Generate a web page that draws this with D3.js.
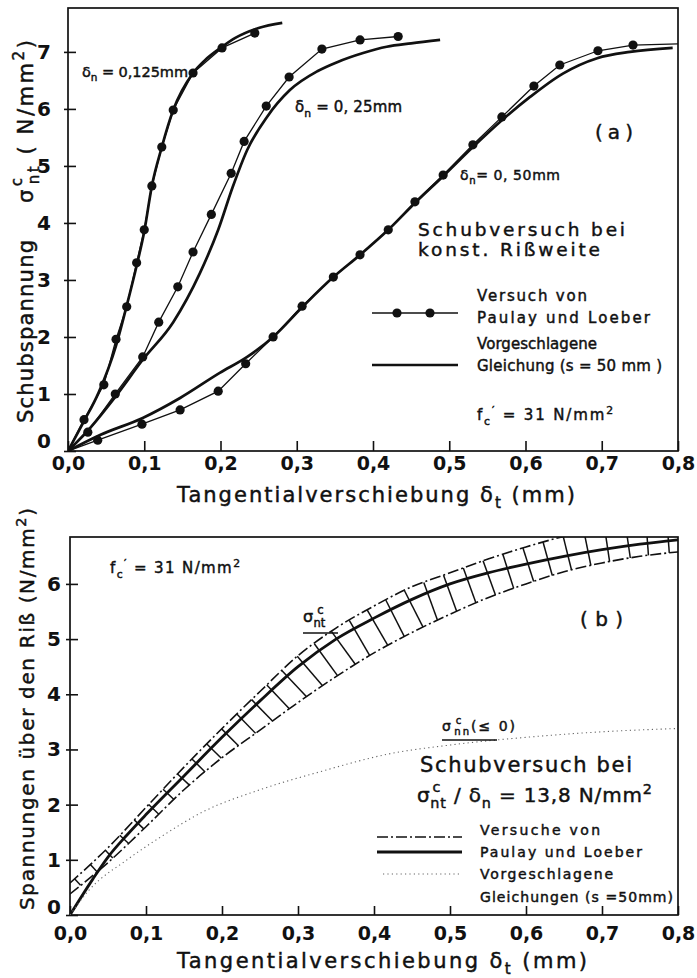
<!DOCTYPE html>
<html>
<head>
<meta charset="utf-8">
<script src="https://cdn.jsdelivr.net/npm/d3@7"></script>
<style>
  html, body { margin: 0; padding: 0; background: #fff; }
  svg { display: block; }
  text { font-family: "DejaVu Sans", sans-serif; fill: #111; }
  text.lab { stroke: #111; stroke-width: 0.45px; }
</style>
</head>
<body>
<svg id="fig" width="697" height="978"></svg>
<script>
// ---------------- data ----------------
const xTickValues = [0, 0.1, 0.2, 0.3, 0.4, 0.5, 0.6, 0.7, 0.8];
const xTickLabels = ["0,0", "0,1", "0,2", "0,3", "0,4", "0,5", "0,6", "0,7", "0,8"];
const yTicksA = [0, 1, 2, 3, 4, 5, 6, 7];
const yTicksB = [0, 1, 2, 3, 4, 5, 6];

// (a) tests by Paulay & Loeber (first point = origin, no marker)
const testX125 = [0, 0.021, 0.047, 0.063, 0.077, 0.09, 0.1, 0.11, 0.123, 0.138, 0.164, 0.202, 0.245];
const testY125 = [0, 0.55, 1.16, 1.96, 2.53, 3.3, 3.88, 4.65, 5.33, 5.98, 6.63, 7.07, 7.33];
const testX25 = [0, 0.026, 0.062, 0.098, 0.119, 0.144, 0.164, 0.188, 0.214, 0.231, 0.26, 0.29, 0.333, 0.383, 0.433];
const testY25 = [0, 0.33, 1.0, 1.65, 2.26, 2.88, 3.49, 4.15, 4.87, 5.43, 6.05, 6.56, 7.05, 7.21, 7.27];
// last point is the run-out of the curve to the frame, no marker
const testX50 = [0, 0.039, 0.097, 0.147, 0.197, 0.233, 0.269, 0.307, 0.348, 0.383, 0.42, 0.455, 0.492, 0.531, 0.569, 0.611, 0.645, 0.695, 0.741, 0.8];
const testY50 = [0, 0.19, 0.47, 0.72, 1.05, 1.53, 2.0, 2.54, 3.05, 3.44, 3.88, 4.37, 4.84, 5.37, 5.86, 6.4, 6.77, 7.02, 7.12, 7.14];

// (a) proposed equation, s = 50 mm
const eqX125 = [0, 0.02, 0.04, 0.063, 0.077, 0.09, 0.1, 0.11, 0.123, 0.138, 0.164, 0.18, 0.2, 0.22, 0.25, 0.281];
const eqY125 = [0, 0.5, 1.02, 1.85, 2.55, 3.25, 3.85, 4.65, 5.33, 5.98, 6.63, 6.86, 7.07, 7.25, 7.42, 7.51];
const eqX25 = [0, 0.03, 0.062, 0.098, 0.138, 0.173, 0.197, 0.216, 0.235, 0.261, 0.291, 0.327, 0.353, 0.387, 0.418, 0.45, 0.488];
const eqY25 = [0, 0.42, 0.95, 1.6, 2.26, 3.12, 3.88, 4.63, 5.28, 5.86, 6.33, 6.66, 6.82, 6.98, 7.09, 7.15, 7.21];
const eqX50 = [0, 0.042, 0.098, 0.147, 0.199, 0.235, 0.269, 0.307, 0.348, 0.383, 0.42, 0.455, 0.492, 0.531, 0.569, 0.606, 0.649, 0.694, 0.737, 0.793];
const eqY50 = [0, 0.28, 0.58, 0.93, 1.37, 1.65, 2.0, 2.52, 3.05, 3.44, 3.88, 4.35, 4.82, 5.33, 5.8, 6.21, 6.62, 6.89, 7.0, 7.07];

// (b) scatter band of the tests (upper / lower edge) and curves
const bandX = [0, 0.05, 0.1, 0.15, 0.2, 0.25, 0.3, 0.35, 0.4, 0.45, 0.5, 0.55, 0.6, 0.65, 0.7, 0.75, 0.8];
const bandUpperY = [0.58, 1.22, 1.95, 2.68, 3.38, 4.05, 4.7, 5.2, 5.6, 5.95, 6.2, 6.45, 6.67, 6.86, 7.0, 7.1, 7.15];
const bandLowerY = [0.38, 0.95, 1.6, 2.27, 2.85, 3.35, 3.85, 4.32, 4.75, 5.12, 5.45, 5.75, 6.0, 6.22, 6.38, 6.5, 6.58];
const ntX = [0, 0.03, 0.05, 0.075, 0.1, 0.15, 0.2, 0.25, 0.3, 0.35, 0.4, 0.45, 0.5, 0.55, 0.6, 0.65, 0.7, 0.75, 0.8];
const ntY = [0, 0.65, 1.05, 1.45, 1.82, 2.52, 3.22, 3.88, 4.5, 5.0, 5.38, 5.72, 6.0, 6.2, 6.36, 6.5, 6.62, 6.72, 6.8];
const nnX = [0, 0.025, 0.075, 0.12, 0.175, 0.25, 0.33, 0.42, 0.5, 0.6, 0.7, 0.8];
const nnY = [0, 0.45, 1.0, 1.42, 1.87, 2.27, 2.6, 2.92, 3.08, 3.22, 3.32, 3.38];

// ---------------- layout ----------------
const INK = "#111";
const svg = d3.select("#fig");
const zip = (xs, ys) => xs.map((x, i) => [x, ys[i]]);

const A = { left: 68, right: 678, top: 8, bottom: 451 };
const B = { left: 70, right: 678, top: 537, bottom: 915 };
const xA = d3.scaleLinear().domain([0, 0.8]).range([A.left, A.right]);
const yA = d3.scaleLinear().domain([0, 7.77]).range([A.bottom, A.top]);
const xB = d3.scaleLinear().domain([0, 0.8]).range([B.left, B.right]);
const yB = d3.scaleLinear().domain([0, 6.85]).range([B.bottom, B.top]);

// clip regions for the two plot areas
const defs = svg.append("defs");
[["clipA", A], ["clipB", B]].forEach(([id, P]) => {
  defs.append("clipPath").attr("id", id).append("rect")
    .attr("x", P.left).attr("y", P.top)
    .attr("width", P.right - P.left).attr("height", P.bottom - P.top);
});

// text with sub/superscripts: parts = [{t, sub, sup, hi, dx}]
function rich(g, x, y, parts, size, len) {
  const t = g.append("text").attr("class", "lab")
    .attr("x", x).attr("y", y).attr("font-size", size);
  let shift = 0;
  parts.forEach(p => {
    const target = p.sub ? size * 0.3 : p.sup ? -size * (p.hi ? 0.52 : 0.42) : 0;
    const ts = t.append("tspan").text(p.t).attr("dy", target - shift);
    if (p.dx) ts.attr("dx", p.dx);
    if (p.sub || p.sup) ts.attr("font-size", size * 0.72);
    shift = target;
  });
  if (len) t.attr("textLength", len);
  return t;
}

function axes(P, sx, sy, yTicks, o) {
  const gx = svg.append("g").attr("transform", `translate(0,${P.bottom})`)
    .call(d3.axisBottom(sx).tickValues(xTickValues)
      .tickFormat(d => xTickLabels[xTickValues.indexOf(d)])
      .tickSizeInner(-o.xTick).tickSizeOuter(0).tickPadding(o.xPad));
  gx.select(".domain").remove();
  gx.selectAll("line").attr("stroke", INK).attr("stroke-width", 1.6);
  gx.selectAll("text").attr("font-family", "'Liberation Sans', Arial, sans-serif")
    .attr("font-weight", "bold").attr("font-size", 19).attr("fill", INK);

  const gy = svg.append("g").attr("transform", `translate(${P.left},0)`)
    .call(d3.axisLeft(sy).tickValues(yTicks).tickFormat(d3.format("d"))
      .tickSizeInner(-8).tickSizeOuter(0).tickPadding(o.yPad));
  gy.select(".domain").remove();
  gy.selectAll("line").attr("x1", -4).attr("stroke", INK).attr("stroke-width", 1.6);
  gy.selectAll("text").attr("font-family", "'Liberation Sans', Arial, sans-serif")
    .attr("font-weight", "bold").attr("font-size", 20).attr("fill", INK);
  gy.selectAll(".tick").filter(d => d === 0).select("text").attr("y", o.zeroShift);

  svg.append("rect").attr("x", P.left).attr("y", P.top)
    .attr("width", P.right - P.left).attr("height", P.bottom - P.top)
    .attr("fill", "none").attr("stroke", INK).attr("stroke-width", 1.7);
}

// ================= panel (a) =================
axes(A, xA, yA, yTicksA, { xTick: 10, xPad: 6, yPad: 17, zeroShift: -10 });

const plotA = svg.append("g").attr("clip-path", "url(#clipA)");
const smoothA = d3.line().x(d => xA(d[0])).y(d => yA(d[1])).curve(d3.curveMonotoneX);
const straightA = d3.line().x(d => xA(d[0])).y(d => yA(d[1]));

[[eqX125, eqY125], [eqX25, eqY25], [eqX50, eqY50]].forEach(([xs, ys]) => {
  plotA.append("path").attr("d", smoothA(zip(xs, ys)))
    .attr("fill", "none").attr("stroke", INK).attr("stroke-width", 2.7);
});
const testsA = [
  { xs: testX125, ys: testY125, marked: [1, testX125.length] },
  { xs: testX25, ys: testY25, marked: [1, testX25.length] },
  { xs: testX50, ys: testY50, marked: [1, testX50.length - 1] }
];
testsA.forEach(s => {
  const pts = zip(s.xs, s.ys);
  plotA.append("path").attr("d", straightA(pts))
    .attr("fill", "none").attr("stroke", INK).attr("stroke-width", 1.3);
  plotA.selectAll(null).data(pts.slice(s.marked[0], s.marked[1])).enter().append("circle")
    .attr("cx", d => xA(d[0])).attr("cy", d => yA(d[1])).attr("r", 4.6).attr("fill", INK);
});

const ta = svg.append("g");
rich(ta, 82, 77, [{ t: "δ" }, { t: "n", sub: true }, { t: " = 0,125mm" }], 14.5, 106);
rich(ta, 295, 112, [{ t: "δ" }, { t: "n", sub: true }, { t: " = 0, 25mm" }], 15, 107);
rich(ta, 460, 180, [{ t: "δ" }, { t: "n", sub: true }, { t: "= 0, 50mm" }], 14, 100);
rich(ta, 595, 139, [{ t: "(a)" }], 20, 38);
rich(ta, 418, 236, [{ t: "Schubversuch bei" }], 18.5, 207);
rich(ta, 418, 256, [{ t: "konst. Rißweite" }], 18.5, 182);

// legend (a)
ta.append("line").attr("x1", 372).attr("x2", 458).attr("y1", 313).attr("y2", 313)
  .attr("stroke", INK).attr("stroke-width", 1.3);
ta.selectAll(null).data([397, 430]).enter().append("circle")
  .attr("cx", d => d).attr("cy", 313).attr("r", 4.6).attr("fill", INK);
ta.append("line").attr("x1", 372).attr("x2", 458).attr("y1", 365).attr("y2", 365)
  .attr("stroke", INK).attr("stroke-width", 2.7);
rich(ta, 477, 301, [{ t: "Versuch von" }], 15, 110);
rich(ta, 477, 323, [{ t: "Paulay und Loeber" }], 15, 173);
rich(ta, 477, 349, [{ t: "Vorgeschlagene" }], 15, 120);
rich(ta, 477, 371, [{ t: "Gleichung (s = 50 mm )" }], 15, 185);
rich(ta, 477, 420, [{ t: "f" }, { t: "c", sub: true }, { t: "′", sup: true }, { t: " = 31  N/mm" }, { t: "2", sup: true }], 15, 136);

// axis titles (a)
rich(svg, 177, 502, [{ t: "Tangentialverschiebung   δ" }, { t: "t", sub: true }, { t: " (mm)" }], 21, 398);
const tya = svg.append("g");
rich(tya.append("g").attr("transform", "translate(33,423) rotate(-90)"), 0, 0,
  [{ t: "Schubspannung" }], 21, 183);
rich(tya.append("g").attr("transform", "translate(33,203) rotate(-90)"), 0, 0,
  [{ t: "σ" }, { t: "c", sup: true, hi: true, dx: 1 }, { t: "nt", sub: true, dx: -9 }, { t: " ( N/mm" }, { t: "2", sup: true }, { t: ")" }], 21, 163);

// ================= panel (b) =================
axes(B, xB, yB, yTicksB, { xTick: 9, xPad: 12, yPad: 9, zeroShift: -8 });

const plotB = svg.append("g").attr("clip-path", "url(#clipB)");
const smoothB = d3.line().x(d => xB(d[0])).y(d => yB(d[1])).curve(d3.curveMonotoneX);

// hatching across the scatter band, perpendicular to its upper edge
const upperF = d3.scaleLinear().domain(bandX).range(bandUpperY);
const lowerF = d3.scaleLinear().domain(bandX).range(bandLowerY);
const hatchGap = 21;
const hatchAt = [];
{
  let acc = hatchGap - 6, prev = [xB(0), yB(upperF(0))];
  for (let x = 0; x <= 0.8; x += 0.0005) {
    const p = [xB(x), yB(upperF(x))];
    acc += Math.hypot(p[0] - prev[0], p[1] - prev[1]);
    prev = p;
    if (acc >= hatchGap) { acc -= hatchGap; hatchAt.push(x); }
  }
}
const hatches = hatchAt.map(x0 => {
  const px = xB(x0), py = yB(upperF(x0));
  const a = Math.max(0, x0 - 0.004), b = Math.min(0.8, x0 + 0.004);
  const m = (yB(upperF(b)) - yB(upperF(a))) / (xB(b) - xB(a));
  let lo = 0, hi = 150;
  for (let k = 0; k < 40; k++) {
    const mid = (lo + hi) / 2;
    const qx = px - m * mid, qy = py + mid;
    const xd = Math.min(0.8, xB.invert(qx));
    if (qy < yB(lowerF(xd))) lo = mid; else hi = mid;
  }
  return [[px, py], [px - m * lo, py + lo]];
});
plotB.selectAll(null).data(hatches).enter().append("line")
  .attr("x1", d => d[0][0]).attr("y1", d => d[0][1])
  .attr("x2", d => d[1][0]).attr("y2", d => d[1][1])
  .attr("stroke", INK).attr("stroke-width", 1.5);

[bandUpperY, bandLowerY].forEach(ys => {
  plotB.append("path").attr("d", smoothB(zip(bandX, ys)))
    .attr("fill", "none").attr("stroke", INK).attr("stroke-width", 1.6)
    .attr("stroke-dasharray", "11,3,2,3");
});
plotB.append("path").attr("d", smoothB(zip(ntX, ntY)))
  .attr("fill", "none").attr("stroke", INK).attr("stroke-width", 2.8);
plotB.append("path").attr("d", smoothB(zip(nnX, nnY)))
  .attr("fill", "none").attr("stroke", "#666").attr("stroke-width", 1.1)
  .attr("stroke-dasharray", "1.2,3.2");

const tb = svg.append("g");
rich(tb, 110, 573, [{ t: "f" }, { t: "c", sub: true }, { t: "′", sup: true }, { t: " = 31  N/mm" }, { t: "2", sup: true }], 15, 130);
rich(tb, 303, 622, [{ t: "σ" }, { t: "c", sup: true, hi: true, dx: 4 }, { t: "nt", sub: true, dx: -10 }], 16);
tb.append("line").attr("x1", 303).attr("x2", 338).attr("y1", 633).attr("y2", 633)
  .attr("stroke", INK).attr("stroke-width", 1.6);
rich(tb, 580, 626, [{ t: "(b)" }], 20, 43);
rich(tb, 442, 731, [{ t: "σ" }, { t: "c", sup: true, hi: true, dx: 3 }, { t: "nn", sub: true, dx: -9 }, { t: "(≤ 0)" }], 14, 73);
tb.append("line").attr("x1", 442).attr("x2", 497).attr("y1", 740).attr("y2", 740)
  .attr("stroke", INK).attr("stroke-width", 1.6);
rich(tb, 420, 772, [{ t: "Schubversuch bei" }], 21, 212);
rich(tb, 417, 802, [{ t: "σ" }, { t: "c", sup: true, hi: true, dx: 2 }, { t: "nt", sub: true, dx: -11 }, { t: " / δ" }, { t: "n", sub: true }, { t: " = 13,8  N/mm" }, { t: "2", sup: true }], 20, 235);

// legend (b)
tb.append("line").attr("x1", 377).attr("x2", 462).attr("y1", 837).attr("y2", 837)
  .attr("stroke", INK).attr("stroke-width", 1.6).attr("stroke-dasharray", "11,3,2,3");
tb.append("line").attr("x1", 377).attr("x2", 462).attr("y1", 852).attr("y2", 852)
  .attr("stroke", INK).attr("stroke-width", 2.8);
tb.append("line").attr("x1", 383).attr("x2", 460).attr("y1", 874).attr("y2", 874)
  .attr("stroke", "#666").attr("stroke-width", 1.1).attr("stroke-dasharray", "1.2,3.2");
rich(tb, 480, 835, [{ t: "Versuche von" }], 14, 120);
rich(tb, 480, 857, [{ t: "Paulay und Loeber" }], 14, 162);
rich(tb, 480, 879, [{ t: "Vorgeschlagene" }], 14, 133);
rich(tb, 480, 902, [{ t: "Gleichungen (s =50mm)" }], 14, 193);

// axis titles (b)
rich(svg, 177, 968, [{ t: "Tangentialverschiebung   δ" }, { t: "t", sub: true }, { t: " (mm)" }], 21, 410);
rich(svg.append("g").attr("transform", "translate(34,910) rotate(-90)"), 0, 0,
  [{ t: "Spannungen über den Riß (N/mm" }, { t: "2", sup: true }, { t: ")" }], 20, 402);
</script>
</body>
</html>
